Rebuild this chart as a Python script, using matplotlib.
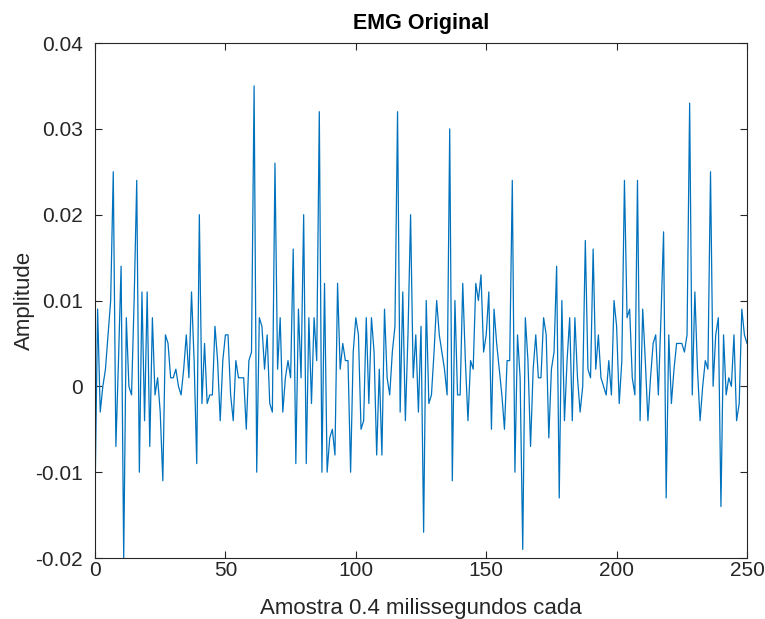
import numpy as np
import matplotlib
matplotlib.use("Agg")
import matplotlib.pyplot as plt

# EMG amplitude, one value per sample (0..250)
amp_0_49 = [-0.013, 0.009, -0.003, 0.000, 0.002, 0.006, 0.010, 0.025, -0.007, 0.003,
            0.014, -0.020, 0.008, 0.000, -0.001, 0.010, 0.024, -0.010, 0.011, -0.004,
            0.011, -0.007, 0.008, -0.001, 0.001, -0.003, -0.011, 0.006, 0.005, 0.001,
            0.001, 0.002, 0.000, -0.001, 0.002, 0.006, 0.001, 0.011, 0.003, -0.009,
            0.020, -0.002, 0.005, -0.002, -0.001, -0.001, 0.007, 0.003, -0.004, 0.003]
amp_50_99 = [0.006, 0.006, -0.001, -0.004, 0.003, 0.001, 0.001, 0.001, -0.005, 0.003,
             0.004, 0.035, -0.010, 0.008, 0.007, 0.002, 0.006, -0.002, -0.003, 0.026,
             0.002, 0.008, -0.003, 0.001, 0.003, 0.001, 0.016, -0.009, 0.009, 0.001,
             0.020, -0.009, 0.008, -0.002, 0.008, 0.003, 0.032, -0.010, 0.012, -0.010,
             -0.006, -0.005, -0.008, 0.012, 0.002, 0.005, 0.003, 0.003, -0.010, 0.004]
amp_100_149 = [0.008, 0.006, -0.005, -0.004, 0.008, -0.002, 0.008, 0.004, -0.008, 0.002,
               -0.008, 0.009, 0.001, -0.001, 0.004, 0.007, 0.032, -0.003, 0.011, -0.004,
               0.006, 0.020, 0.001, 0.006, -0.003, 0.007, -0.017, 0.010, -0.002, -0.001,
               0.004, 0.010, 0.006, 0.004, 0.002, -0.001, 0.030, -0.011, 0.010, -0.001,
               -0.001, 0.012, 0.003, -0.004, 0.003, 0.002, 0.012, 0.010, 0.013, 0.004]
amp_150_199 = [0.006, 0.011, -0.005, 0.009, 0.005, 0.002, -0.001, -0.005, 0.003, 0.003,
               0.024, -0.010, 0.006, 0.001, -0.019, 0.008, 0.003, -0.007, 0.002, 0.006,
               0.001, 0.001, 0.008, 0.006, -0.006, 0.002, 0.004, 0.014, -0.013, 0.010,
               -0.004, 0.003, 0.008, -0.004, 0.008, 0.001, -0.003, 0.000, 0.017, 0.002,
               0.001, 0.016, 0.002, 0.006, 0.001, 0.000, -0.001, 0.003, -0.001, 0.010]
amp_200_250 = [0.007, -0.002, 0.003, 0.024, 0.008, 0.009, 0.001, -0.001, 0.024, -0.004,
               0.009, 0.003, -0.004, 0.001, 0.005, 0.006, -0.001, 0.008, 0.018, -0.013,
               0.006, -0.002, 0.002, 0.005, 0.005, 0.005, 0.004, 0.006, 0.033, -0.001,
               0.011, 0.002, -0.004, 0.000, 0.003, 0.002, 0.025, 0.000, 0.006, 0.008,
               -0.014, 0.006, -0.001, 0.001, 0.000, 0.006, -0.004, -0.002, 0.009, 0.006,
               0.005]

amplitude = np.array(amp_0_49 + amp_50_99 + amp_100_149 + amp_150_199 + amp_200_250)
samples = np.arange(len(amplitude))

xticks = [0, 50, 100, 150, 200, 250]
yticks = [-0.02, -0.01, 0, 0.01, 0.02, 0.03, 0.04]
ytick_labels = ["-0.02", "-0.01", "0", "0.01", "0.02", "0.03", "0.04"]

plt.rcParams['font.family'] = ['Liberation Sans', 'DejaVu Sans']

fig = plt.figure(figsize=(7.65, 6.19), dpi=100)
ax = fig.add_axes([0.1242, 0.0985, 0.8523, 0.832])

ax.plot(samples, amplitude, color='#0072BD', linewidth=0.9)

ax.set_xlim(0, 250)
ax.set_ylim(-0.02, 0.04)
ax.set_xticks(xticks)
ax.set_yticks(yticks)
ax.set_yticklabels(ytick_labels)
ax.tick_params(direction='in', length=5, width=0.8, colors='#262626',
               labelsize=15, top=True, right=True, labeltop=False, labelright=False)
ax.tick_params(axis='y', pad=9)
ax.tick_params(axis='x', pad=2)
for s in ax.spines.values():
    s.set_color('#262626')
    s.set_linewidth(0.8)

ax.set_title('EMG Original', fontsize=15.5, fontweight='bold', color='black', pad=10)
ax.set_xlabel('Amostra 0.4 milissegundos cada', fontsize=16, color='#262626', labelpad=13)
ax.set_ylabel('Amplitude', fontsize=16, color='#262626', labelpad=0)

fig.savefig('out.png', dpi=100)
